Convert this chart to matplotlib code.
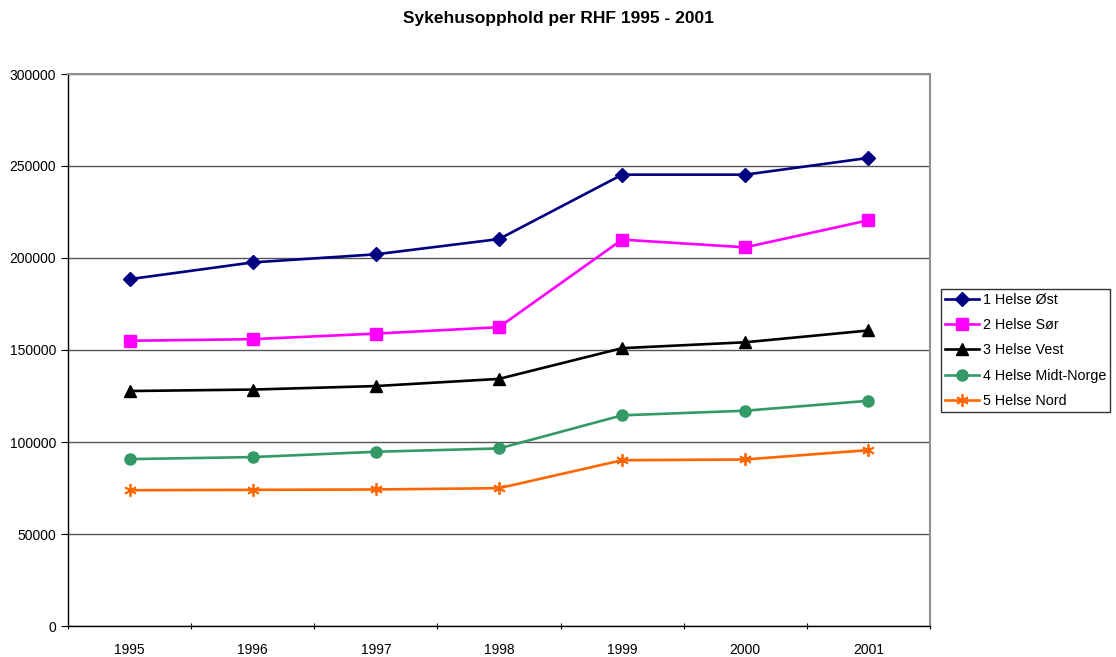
import matplotlib
matplotlib.use("Agg")
import matplotlib.pyplot as plt

years = ["1995", "1996", "1997", "1998", "1999", "2000", "2001"]
ost = [188500, 197600, 202000, 210300, 245300, 245300, 254400]
sor = [155000, 155900, 158900, 162400, 210000, 205800, 220500]
vest = [127700, 128500, 130400, 134300, 151000, 154200, 160600]
midt = [90700, 91800, 94700, 96500, 114500, 117000, 122400]
nord = [73800, 74000, 74200, 74900, 90100, 90500, 95600]

plt.rcParams['font.family'] = ['Liberation Sans', 'DejaVu Sans']

fig = plt.figure(figsize=(11.16, 6.57), dpi=100)
ax = fig.add_axes([68 / 1116, 1 - 626 / 657, (930 - 68) / 1116, (626 - 74) / 657])

x = [i + 0.5 for i in range(len(years))]

ax.plot(x, ost, color='#000080', lw=1.9, marker='D', ms=7, label='1 Helse Øst')
ax.plot(x, sor, color='#FF00FF', lw=1.9, marker='s', ms=8, label='2 Helse Sør')
ax.plot(x, vest, color='black', lw=1.9, marker='^', ms=8, label='3 Helse Vest')
ax.plot(x, midt, color='#339966', lw=1.9, marker='o', ms=8, label='4 Helse Midt-Norge')
ax.plot(x, nord, color='#FF6600', lw=1.9, marker=(6, 2, 0), ms=9, mew=1.3,
        label='5 Helse Nord')

ax.set_xlim(0, 7)
ax.set_ylim(0, 300000)
ax.set_yticks(range(0, 300001, 50000))
ax.set_yticklabels([str(v) for v in range(0, 300001, 50000)], fontsize=10)
ax.set_xticks(range(0, 8))
ax.set_xticklabels([])
ax.set_xticks(x, minor=True)
ax.set_xticklabels(years, minor=True, fontsize=10)
ax.tick_params(axis='x', which='minor', length=0, pad=12)
ax.tick_params(axis='x', which='major', length=5, direction='inout')
ax.tick_params(axis='y', length=5, direction='out')

ax.yaxis.grid(True, color='#555555', lw=1)
ax.set_axisbelow(True)
for s in ['top', 'right']:
    ax.spines[s].set_color('#909090')
    ax.spines[s].set_linewidth(1.5)
for s in ['left', 'bottom']:
    ax.spines[s].set_color('black')
    ax.spines[s].set_linewidth(1)

fig.suptitle('Sykehusopphold per RHF 1995 - 2001', fontsize=12.5, fontweight='bold',
             y=1 - 18 / 657, va='center')

leg = fig.legend(loc='upper left', bbox_to_anchor=(941 / 1116, 1 - 289 / 657),
                 borderaxespad=0, fontsize=10.3, frameon=True, fancybox=False,
                 edgecolor='black', handlelength=2.4, handletextpad=0.3,
                 borderpad=0.25, labelspacing=0.8)
leg.get_frame().set_linewidth(1)

fig.savefig('out.png', dpi=100)
